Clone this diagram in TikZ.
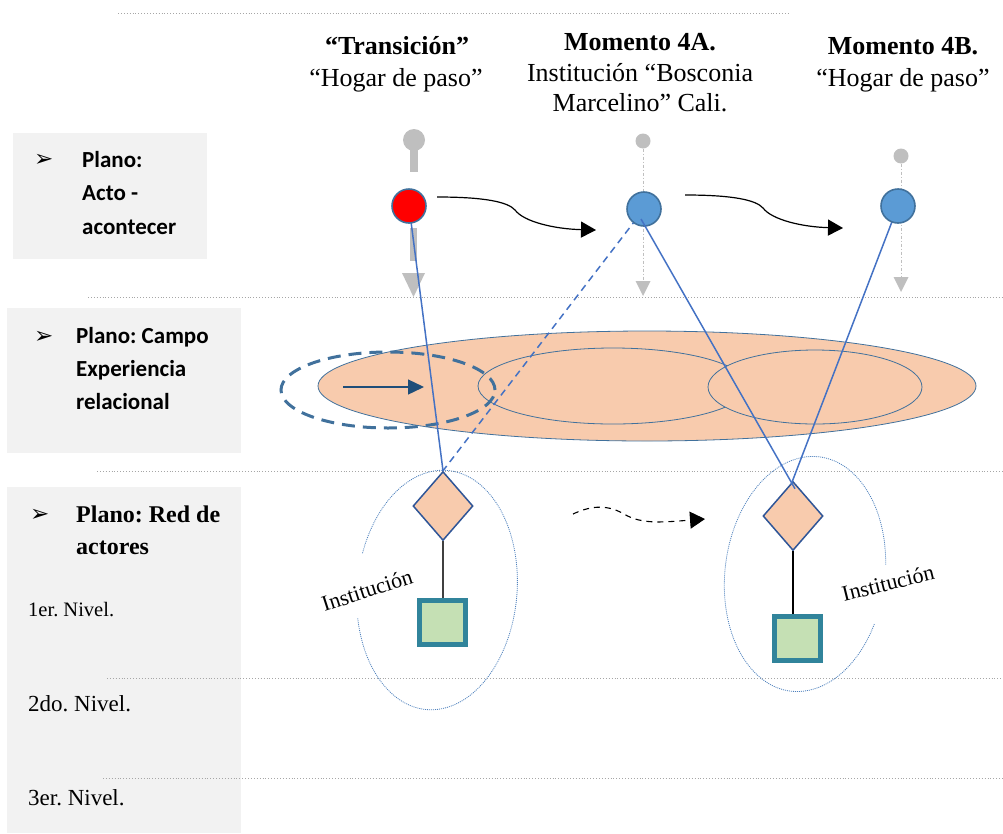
\documentclass[tikz,border=0pt]{standalone}
\usepackage{fontspec}
\setmainfont{Liberation Serif}
\newfontfamily\calib{Carlito}
\newfontfamily\dvs{DejaVu Sans}
\usetikzlibrary{arrows.meta,shapes.geometric,calc}
\definecolor{boxgray}{HTML}{F2F2F2}
\definecolor{linegray}{HTML}{A6A6A6}
\definecolor{peach}{HTML}{F8CBAD}
\definecolor{ellborder}{HTML}{41719C}
\definecolor{bluel}{HTML}{4472C4}
\definecolor{circfill}{HTML}{5B9BD5}
\definecolor{markgray}{HTML}{BFBFBF}
\definecolor{diaborder}{HTML}{2F5597}
\definecolor{sqborder}{HTML}{31849B}
\definecolor{sqfill}{HTML}{C5E0B4}
\definecolor{darkarrow}{HTML}{1F4E79}
\definecolor{dotell}{HTML}{4F81BD}
\frenchspacing
\begin{document}
\begin{tikzpicture}[x=1pt,y=-1pt,
  sepline/.style={draw=linegray, dotted, line width=0.9pt},
  hdr/.style={anchor=base, inner sep=0pt, font=\fontsize{26}{31}\selectfont},
  hdrb/.style={hdr, font=\fontsize{26}{31}\selectfont\bfseries},
  clbl/.style={anchor=base west, inner sep=0pt, font=\calib\bfseries\fontsize{23}{28}\selectfont},
  tlbl/.style={anchor=base west, inner sep=0pt, font=\bfseries\fontsize{24}{28}\selectfont},
  nivel/.style={anchor=base west, inner sep=0pt, font=\fontsize{23}{28}\selectfont},
  bullet/.style={anchor=base west, inner sep=0pt, font=\dvs\fontsize{23}{26}\selectfont},
  actcirc/.style={circle, draw=ellborder, line width=1.6pt, minimum size=34pt, inner sep=0pt},
  bluecon/.style={draw=bluel, line width=1.5pt},
  dia/.style={diamond, draw=diaborder, fill=peach, line width=1.5pt, minimum width=60pt, minimum height=69pt, inner sep=0pt},
  sq/.style={rectangle, draw=sqborder, fill=sqfill, line width=5pt, minimum width=46pt, minimum height=44pt, inner sep=0pt},
  markline/.style={draw=markgray, line width=1pt, dash dot},
  curvarrow/.style={draw=black, line width=1.2pt, -{Triangle[length=15pt,width=16pt]}},
  dotellipse/.style={draw=dotell, line width=0.8pt, dash pattern=on 1pt off 1pt},
  inst/.style={inner sep=0pt, font=\fontsize{22}{26}\selectfont}
]
\useasboundingbox (0,0) rectangle (1003,833);

% gray label boxes
\fill[boxgray] (13,133) rectangle (207,259);
\fill[boxgray] (7,308) rectangle (241,453);
\fill[boxgray] (7,487) rectangle (241,833);

% separator lines
\draw[sepline] (118,13) -- (788,13);
\draw[sepline] (88,297) -- (1003,297);
\draw[sepline] (97,471) -- (1003,471);
\draw[sepline] (107,678) -- (1003,678);
\draw[sepline] (103,778) -- (1003,778);

% headers
\node[hdrb] (h1) at (397,54) {“Transición”};
\node[hdr] (h1b) at (396,86) {“Hogar de paso”};
\node[hdrb] (h2) at (640,50) {Momento 4A.};
\node[hdr] (h2b) at (640,81) {Institución “Bosconia};
\node[hdr] (h2c) at (640,111) {Marcelino” Cali.};
\node[hdrb] (h3) at (903,54) {Momento 4B.};
\node[hdr] (h3b) at (903,86) {“Hogar de paso”};

% left labels
\node[bullet] (b1) at (34,166) {➢};
\node[clbl] (l1a) at (82,167) {Plano:};
\node[clbl] (l1b) at (82,200) {Acto -};
\node[clbl] (l1c) at (82,234) {acontecer};
\node[bullet] (b2) at (34,343) {➢};
\node[clbl] (l2a) at (76,343) {Plano: Campo};
\node[clbl] (l2b) at (76,376) {Experiencia};
\node[clbl] (l2c) at (76,409) {relacional};
\node[bullet] (b3) at (30,521) {➢};
\node[tlbl] (l3a) at (76,522) {Plano: Red de};
\node[tlbl] (l3b) at (76,554) {actores};
\node[nivel, font=\fontsize{20.5}{24}\selectfont] (n1) at (28,616) {1er. Nivel.};
\node[nivel] (n2) at (28,711) {2do. Nivel.};
\node[nivel] (n3) at (28,805) {3er. Nivel.};

% relational field ellipses
\filldraw[fill=peach, draw=ellborder, line width=0.8pt] (647,386) ellipse [x radius=329pt, y radius=55pt];
\draw[draw=ellborder, line width=0.8pt] (613,386) ellipse [x radius=135pt, y radius=38pt];
\filldraw[fill=peach, draw=ellborder, line width=0.8pt] (815,387) ellipse [x radius=107pt, y radius=37pt];

% dashed ellipse and arrow
\draw[draw=ellborder, line width=3pt, dash pattern=on 13pt off 8pt] (388,390) ellipse [x radius=107pt, y radius=38pt];
\coordinate (ia) at (343,387);
\coordinate (ib) at (424,387);
\draw[draw=darkarrow, line width=1.3pt, -{Triangle[length=16pt,width=15pt]}] (ia) -- (ib);

% institution dotted ellipses
\begin{scope}[shift={(437,590)}, rotate=-5]
  \draw[dotellipse] (197:80pt and 120pt) arc[start angle=197, end angle=525.5, x radius=80pt, y radius=120pt];
\end{scope}
\begin{scope}[shift={(805,574)}, rotate=-7]
  \draw[dotellipse] (9.3:80pt and 118pt) arc[start angle=9.3, end angle=339.7, x radius=80pt, y radius=118pt];
\end{scope}
\node[inst, rotate=18] (inst1) at (367,590) {Institución};
\node[inst, rotate=14] (inst2) at (888,583) {Institución};

% gray markers
\fill[markgray] (414,140) circle (11pt);
\fill[markgray] (410,148) rectangle (418,172);
\fill[markgray] (410,228) rectangle (417,261);
\fill[markgray] (402,273) -- (425,273) -- (413.5,297) -- cycle;
\node[circle, fill=markgray, minimum size=15pt, inner sep=0pt] (g2) at (643,141) {};
\node[circle, fill=markgray, minimum size=15pt, inner sep=0pt] (g3) at (901,156) {};
\coordinate (g2t) at (643,296);
\coordinate (g3t) at (901,292);
\draw[markline] (g2) -- (643,283);
\fill[markgray] (635.5,281) -- (650.5,281) -- (g2t) -- cycle;
\draw[markline] (g3) -- (901,278);
\fill[markgray] (893.5,277) -- (908.5,277) -- (g3t) -- cycle;

% diamonds and squares
\node[dia] (d1) at (443,506) {};
\node[dia] (d2) at (793,516) {};
\node[sq] (s1) at (442,622) {};
\node[sq] (s2) at (797,638) {};
\draw[draw=black!75, line width=1.3pt] (d1.south) -- (d1.south |- s1.north);
\draw[draw=black, line width=1.2pt] (d2.south) -- (d2.south |- s2.north);

% act circles positions
\coordinate (pc1) at (409,206);
\coordinate (pc2) at (644,209);
\coordinate (pc3) at (898,206);

% blue connectors (under the circles)
\draw[bluecon] (pc1) -- (d1.north);
\draw[bluecon, dash pattern=on 7pt off 5pt] (pc2) -- (d1.north);
\draw[bluecon] (pc3) -- ($(d2.north)+(-2,4)$);

% circles
\node[actcirc, fill=red] (c1) at (pc1) {};
\node[actcirc, fill=circfill] (c2) at (pc2) {};
\node[actcirc, fill=circfill] (c3) at (pc3) {};
\draw[bluecon] ($(c2.center)+(-3,10)$) -- ($(d2.north)+(2,8)$);

% black curved arrows
\coordinate (a1s) at (437,197);
\coordinate (a1e) at (596,230);
\coordinate (a2s) at (685,195);
\coordinate (a2e) at (843,228);
\draw[curvarrow] (a1s) .. controls (485,197) and (508,202) .. (515,210) .. controls (524,222) and (555,229) .. (a1e);
\draw[curvarrow] (a2s) .. controls (733,195) and (756,200) .. (763,208) .. controls (772,220) and (803,227) .. (a2e);

% dashed wavy arrow
\coordinate (w1) at (573,514);
\coordinate (w2) at (705,519);
\draw[line width=1.1pt, dash pattern=on 6pt off 5pt, -{Triangle[length=15pt,width=17pt]}] (w1) .. controls (588,507) and (605,503) .. (624,514) .. controls (642,525) and (665,522) .. (w2);
\end{tikzpicture}
\end{document}
